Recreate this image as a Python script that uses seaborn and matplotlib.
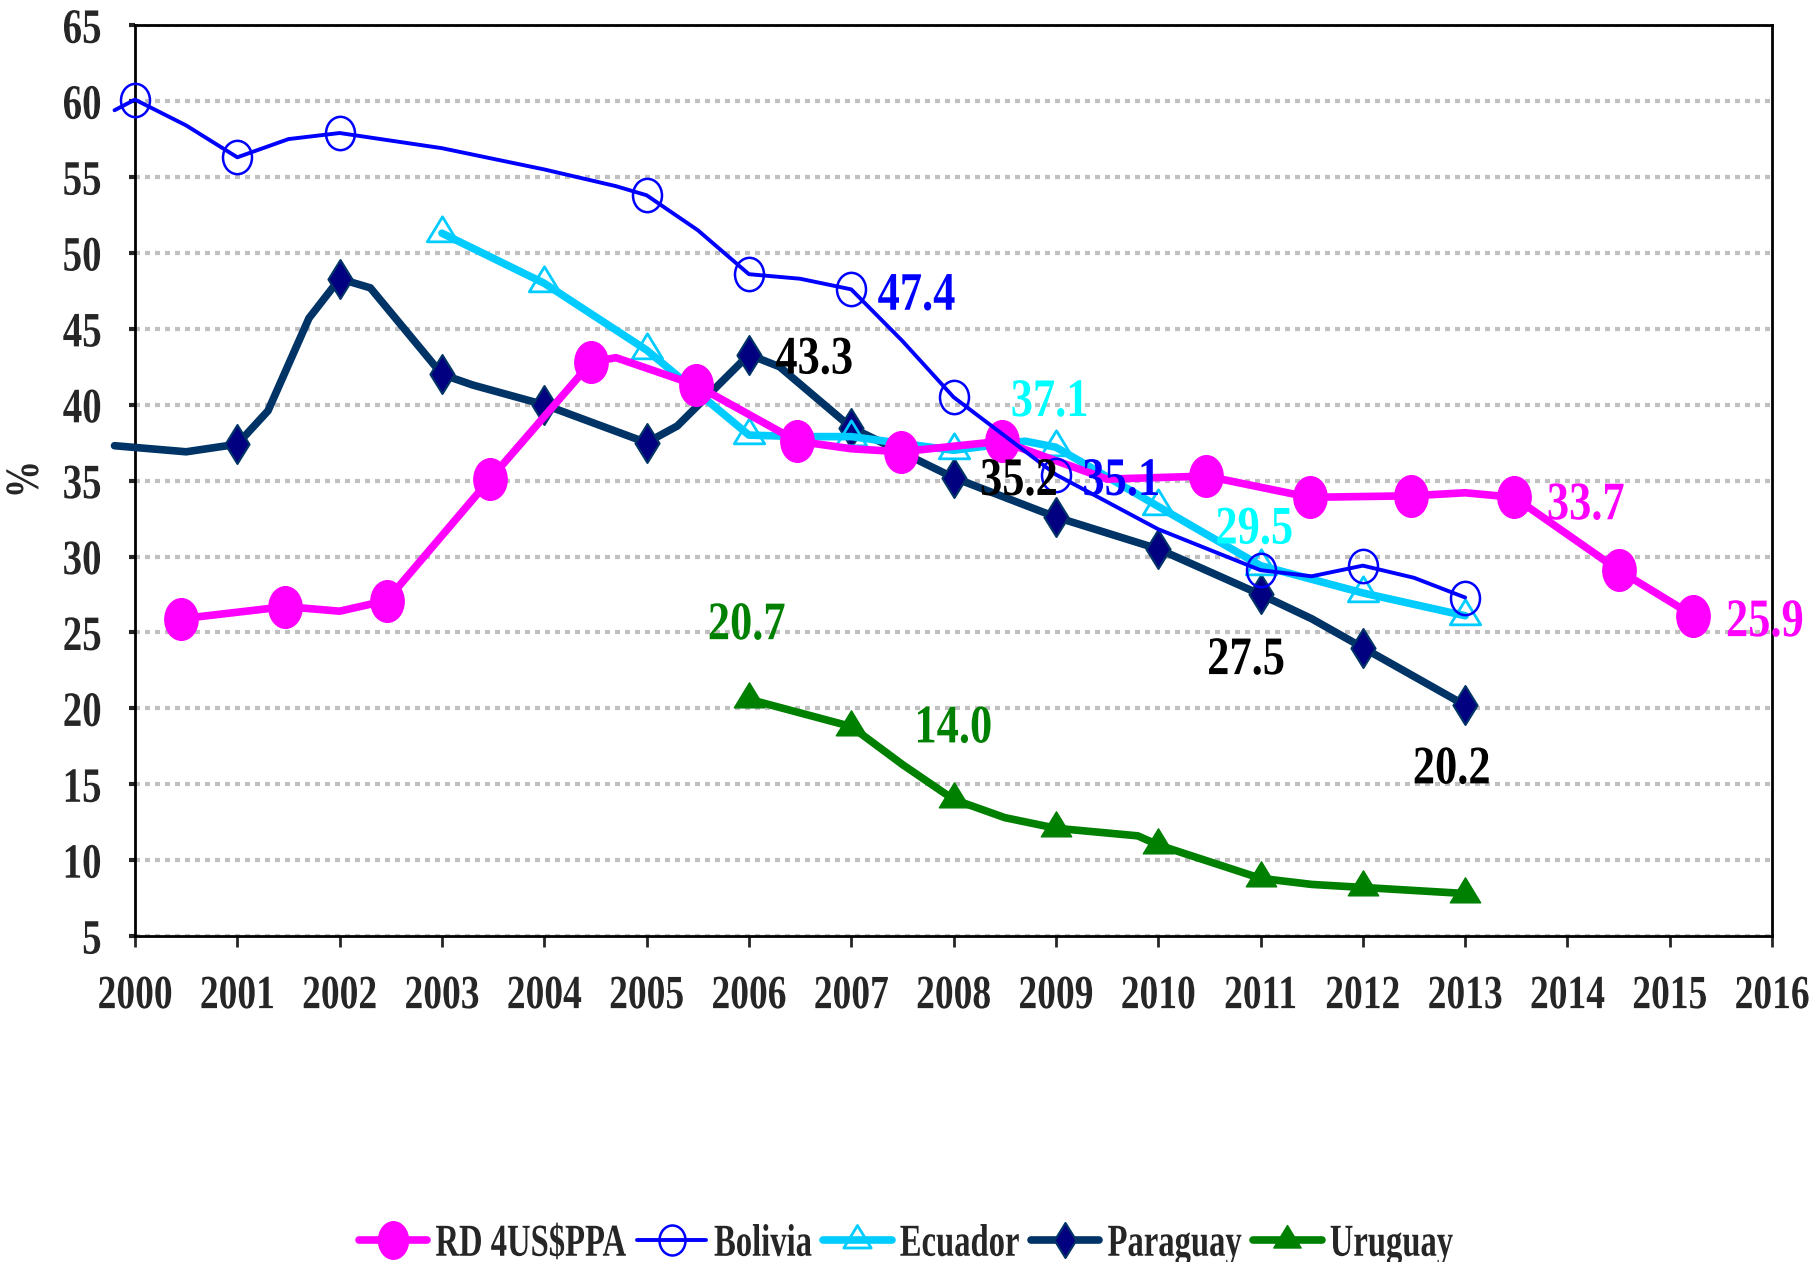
import matplotlib
matplotlib.use("Agg")
import matplotlib.pyplot as plt
from matplotlib.path import Path
from matplotlib.transforms import Affine2D
from matplotlib import patheffects as pe
import seaborn as sns

# values; the *_plain years are bends of the line with no marker
rd_years = [2000.45, 2001.47, 2002.0, 2002.46, 2003.47, 2004.46, 2004.7, 2005.48, 2006.47, 2007.0,
            2007.49, 2008.47, 2009.5, 2010.47, 2011.48, 2012.47, 2013.0, 2013.48, 2014.5, 2015.23]
rd_vals = [25.9, 26.7, 26.4, 27.1, 35.1, 42.8, 43.1, 41.3, 37.6, 37.1,
           36.9, 37.6, 35.1, 35.3, 33.9, 34.0, 34.2, 33.9, 29.1, 26.1]
rd_plain = [2002.0, 2004.7, 2007.0, 2009.5, 2013.0]

bol_years = [1999.8, 2000, 2000.5, 2001, 2001.5, 2002, 2003, 2004, 2004.7, 2005, 2005.5, 2006,
             2006.5, 2007, 2007.5, 2008, 2009, 2010, 2011, 2011.5, 2012, 2012.5, 2013]
bol_vals = [59.4, 60.1, 58.4, 56.3, 57.5, 57.9, 56.9, 55.5, 54.4, 53.8, 51.5, 48.6,
            48.3, 47.6, 44.2, 40.5, 35.4, 31.8, 29.1, 28.7, 29.4, 28.6, 27.3]
bol_plain = [1999.8, 2000.5, 2001.5, 2003, 2004, 2004.7, 2005.5, 2006.5, 2007.5, 2010, 2011.5, 2012.5]

ecu_years = [2003, 2004, 2005, 2006, 2006.5, 2007, 2008, 2008.7, 2009, 2010, 2011, 2012, 2013]
ecu_vals = [51.3, 48.0, 43.6, 38.0, 37.9, 37.9, 37.0, 37.6, 37.2, 33.3, 29.4, 27.6, 26.1]
ecu_plain = [2006.5, 2008.7]

par_years = [1999.8, 2000.5, 2001, 2001.3, 2001.7, 2002, 2002.3, 2003, 2003.3, 2004, 2005, 2005.3,
             2006, 2006.3, 2007, 2008, 2009, 2010, 2011, 2011.5, 2012, 2013]
par_vals = [37.3, 36.9, 37.4, 39.6, 45.7, 48.3, 47.7, 42.0, 41.3, 40.0, 37.5, 38.6,
            43.3, 42.5, 38.5, 35.2, 32.6, 30.5, 27.5, 25.9, 24.0, 20.2]
par_plain = [1999.8, 2000.5, 2001.3, 2001.7, 2002.3, 2003.3, 2005.3, 2006.3, 2011.5]

uru_years = [2006, 2007, 2007.5, 2008, 2008.5, 2009, 2009.8, 2010, 2011, 2011.5, 2012, 2013]
uru_vals = [20.6, 18.8, 16.3, 14.0, 12.8, 12.1, 11.6, 11.0, 8.8, 8.4, 8.2, 7.8]
uru_plain = [2007.5, 2008.5, 2009.8, 2011.5]

series_names = ["RD 4US$PPA", "Bolivia", "Ecuador", "Paraguay", "Uruguay"]

note_texts = ["47.4", "43.3", "37.1", "35.2", "35.1", "29.5", "33.7", "25.9", "20.7", "14.0", "27.5", "20.2"]
note_x = [2007.64, 2006.64, 2008.94, 2008.64, 2009.64, 2010.94, 2014.18, 2015.93, 2005.98, 2008.0, 2010.86, 2012.87]
note_y = [47.2, 43.0, 40.2, 35.0, 35.0, 31.8, 33.4, 25.7, 25.5, 18.7, 23.2, 16.0]
note_colors = ["#0000FF", "black", "#00FFFF", "black", "#0000FF", "#00FFFF",
               "#FF00FF", "#FF00FF", "#008000", "#008000", "black", "black"]

sns.set_style("white")
plt.rcParams["font.family"] = ["Liberation Serif", "DejaVu Serif"]
plt.rcParams["font.weight"] = "bold"


class Tall(pe.AbstractPathEffect):
    """Stretch glyphs vertically about the middle of the digits, like the squeezed original."""

    def __init__(self, sy):
        super().__init__()
        self.sy = sy

    def draw_path(self, renderer, gc, tpath, affine, rgbFace=None):
        stretch = Affine2D().translate(0, -34).scale(1, self.sy).translate(0, 34)
        renderer.draw_path(gc, tpath, stretch + affine, rgbFace)


def tall(path, sy=1.25):
    # the original is stretched vertically, so markers come out taller than wide
    return Path(path.vertices * [1, sy], path.codes)


ellipse = tall(Path.unit_circle())
circle = tall(Path.unit_circle(), 1.15)
tri = tall(Path.unit_regular_polygon(3), 0.95)
diamond = Path([(0, 1), (0.62, 0), (0, -1), (-0.62, 0), (0, 1)],
               [Path.MOVETO, Path.LINETO, Path.LINETO, Path.LINETO, Path.CLOSEPOLY])


def marks(years, plain):
    return [i for i, yr in enumerate(years) if yr not in plain]


fig = plt.figure(figsize=(18.12, 12.62), dpi=100)
ax = fig.add_axes([0.0745, 0.2583, 0.9035, 0.7217])

sns.lineplot(x=par_years, y=par_vals, ax=ax, color="#003366", lw=5.5, marker=diamond, ms=28,
             mfc="#000080", mec="#003366", mew=1.5, markevery=marks(par_years, par_plain),
             label=series_names[3], zorder=3, clip_on=False)
sns.lineplot(x=ecu_years, y=ecu_vals, ax=ax, color="#00CCFF", lw=5.5, marker=tri, ms=24,
             mfc="none", mec="#00CCFF", mew=2, markevery=marks(ecu_years, ecu_plain),
             label=series_names[2], zorder=3)
sns.lineplot(x=uru_years, y=uru_vals, ax=ax, color="#008000", lw=5.5, marker=tri, ms=24,
             mfc="#008000", mec="#008000", mew=1, markevery=marks(uru_years, uru_plain),
             label=series_names[4], zorder=3)
sns.lineplot(x=rd_years, y=rd_vals, ax=ax, color="#FF00FF", lw=5.5, marker=ellipse, ms=30,
             mfc="#FF00FF", mec="#FF00FF", mew=1, markevery=marks(rd_years, rd_plain),
             label=series_names[0], zorder=4)
sns.lineplot(x=bol_years, y=bol_vals, ax=ax, color="#0000FF", lw=2.8, marker=circle, ms=24,
             mfc="none", mec="#0000FF", mew=1.8, markevery=marks(bol_years, bol_plain),
             label=series_names[1], zorder=5, clip_on=False)

for t, x, y, c in zip(note_texts, note_x, note_y, note_colors):
    ax.text(x, y, t, color=c, fontsize=32, fontweight="bold", ha="center", va="center",
            zorder=6, clip_on=False, path_effects=[Tall(1.22)])

ax.set_xlim(2000, 2016)
ax.set_ylim(5, 65)
ax.set_xticks(range(2000, 2017))
ax.set_yticks(range(5, 70, 5))
ax.grid(axis="y", color="#C0C0C0", lw=3, linestyle=(0, (1.2, 1.2)), zorder=1)
ax.set_axisbelow(True)
for s in ax.spines.values():
    s.set_visible(True)
    s.set_color("black")
    s.set_linewidth(2)

ax.tick_params(axis="x", direction="out", length=8, width=2, pad=22, labelsize=27)
ax.tick_params(axis="y", direction="out", length=4, width=3, pad=20, labelsize=28)
ax.tick_params(bottom=True, left=True)
for lab in ax.get_xticklabels() + ax.get_yticklabels():
    lab.set_fontweight("bold")
    lab.set_path_effects([Tall(1.27)])
ax.set_xlabel("")
ax.set_ylabel("")
fig.text(25 / 1812, 0.62, "%", fontsize=27, fontweight="bold", rotation=90,
         ha="center", va="center", path_effects=[Tall(1.27)])

handles, labels = ax.get_legend_handles_labels()
order = [labels.index(n) for n in series_names]
leg = ax.legend([handles[i] for i in order], [labels[i] for i in order],
                loc="lower center", bbox_to_anchor=(0.5, -0.01), bbox_transform=fig.transFigure,
                ncol=5, frameon=False, fontsize=23.5, handlelength=2.1, handletextpad=0.25,
                columnspacing=0.35, borderpad=0, markerscale=0.9)
for t in leg.get_texts():
    t.set_path_effects([Tall(1.4)])

fig.savefig("out.png", dpi=100)
